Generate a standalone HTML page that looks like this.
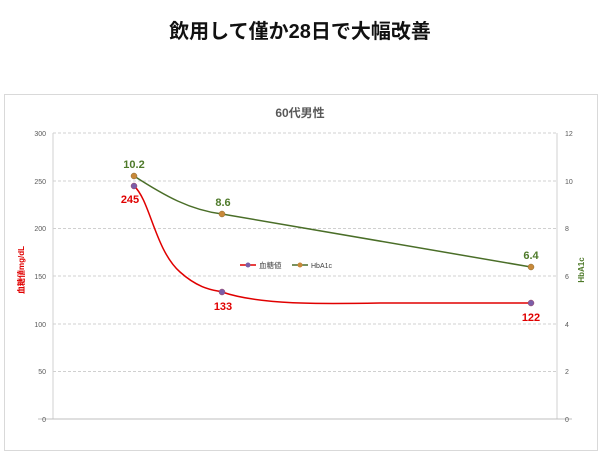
<!DOCTYPE html>
<html><head><meta charset="utf-8"><style>
body{margin:0;background:#fff;width:600px;height:468px;overflow:hidden}
svg{display:block}
text{font-family:"Liberation Sans","Noto Sans CJK JP",sans-serif}
</style></head><body>
<svg width="600" height="468" viewBox="0 0 600 468">
<text x="300" y="38" text-anchor="middle" font-size="20" font-weight="bold" fill="#111">飲用して僅か28日で大幅改善</text>
<rect x="4.5" y="94.5" width="593" height="356" fill="#fff" stroke="#d9d9d9"/>
<text x="300" y="117" text-anchor="middle" font-size="12" font-weight="bold" fill="#595959">60代男性</text>
<g stroke="#d0d0d0" stroke-dasharray="3,2" stroke-width="1">
<line x1="53" y1="133" x2="557" y2="133"/><line x1="53" y1="181" x2="557" y2="181"/>
<line x1="53" y1="228.5" x2="557" y2="228.5"/><line x1="53" y1="276" x2="557" y2="276"/>
<line x1="53" y1="324" x2="557" y2="324"/><line x1="53" y1="371.5" x2="557" y2="371.5"/>
</g>
<line x1="53" y1="133" x2="53" y2="419" stroke="#d0d0d0"/>
<line x1="557" y1="133" x2="557" y2="419" stroke="#d0d0d0"/>
<line x1="38" y1="419" x2="572" y2="419" stroke="#bfbfbf"/>
<g font-size="7" fill="#595959" text-anchor="end">
<text x="46" y="136">300</text><text x="46" y="184">250</text><text x="46" y="231">200</text>
<text x="46" y="279">150</text><text x="46" y="327">100</text><text x="46" y="374">50</text><text x="46" y="422">0</text>
</g>
<g font-size="7" fill="#595959">
<text x="565" y="136">12</text><text x="565" y="184">10</text><text x="565" y="231">8</text>
<text x="565" y="279">6</text><text x="565" y="327">4</text><text x="565" y="374">2</text><text x="565" y="422">0</text>
</g>
<text transform="translate(24,270) rotate(-90)" text-anchor="middle" font-size="8" font-weight="bold" fill="#e00000">血糖値mg/dL</text>
<text transform="translate(584,270) rotate(-90)" text-anchor="middle" font-size="8" font-weight="bold" fill="#4e7a2a">HbA1c</text>
<path d="M134,176 C165,196 190,210 222,214 L531,267" fill="none" stroke="#4a6e28" stroke-width="1.5"/>
<path d="M134,186 C150,200 155,250 180,272 C200,290 215,290 222,292 C260,305 320,304 380,303 L531,303" fill="none" stroke="#e00000" stroke-width="1.5"/>
<g fill="#c8893a" stroke="#8a6a30" stroke-width="0.5">
<circle cx="134" cy="176" r="3"/><circle cx="222" cy="214" r="3"/><circle cx="531" cy="267" r="3"/></g>
<g fill="#7b5ea8" stroke="#a04060" stroke-width="0.5">
<circle cx="134" cy="186" r="3"/><circle cx="222" cy="292" r="3"/><circle cx="531" cy="303" r="3"/></g>
<g font-size="11" font-weight="bold" text-anchor="middle" fill="#4e7a2a">
<text x="134" y="168">10.2</text><text x="223" y="206">8.6</text><text x="531" y="259">6.4</text></g>
<g font-size="11" font-weight="bold" text-anchor="middle" fill="#e00000">
<text x="130" y="203">245</text><text x="223" y="310">133</text><text x="531" y="321">122</text></g>
<line x1="240" y1="265" x2="256" y2="265" stroke="#e00000" stroke-width="1.5"/>
<circle cx="248" cy="265" r="2.5" fill="#7b5ea8"/>
<text x="259" y="268" font-size="7.5" fill="#404040">血糖値</text>
<line x1="292" y1="265" x2="308" y2="265" stroke="#4a6e28" stroke-width="1.5"/>
<circle cx="300" cy="265" r="2.5" fill="#c8893a"/>
<text x="311" y="268" font-size="7" fill="#404040">HbA1c</text>
</svg>
</body></html>
